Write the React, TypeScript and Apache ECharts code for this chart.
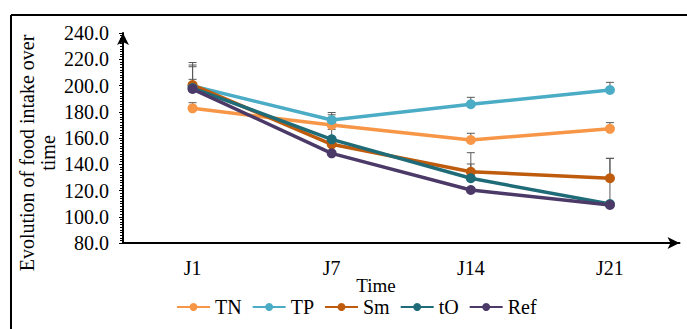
import React, { useEffect, useRef } from "react";
import * as echarts from "echarts";

const categories = ["J1", "J7", "J14", "J21"];
const seriesNames = ["TN", "TP", "Sm", "tO", "Ref"];
const tn = [182.6, 169.9, 158.5, 167.0];
const tp = [199.6, 173.7, 185.7, 196.6];
const sm = [200.4, 155.2, 134.3, 129.3];
const tO = [198.0, 159.0, 129.3, 109.7];
const ref = [197.3, 148.3, 120.4, 109.0];
// plus-direction error amounts
const errTN = [4.3, 7.8, 5.1, 4.7];
const errTP = [17.9, 5.7, 5.3, 5.8];
const errSm = [15.2, 0, 14.5, 15.2];
const errTO = [16.3, 7.6, 10.9, 0];
const errRef = [7.4, 0, 0, 35.5];
const yTicks = [80, 100, 120, 140, 160, 180, 200, 220, 240];

const colors = ["#F79646", "#4BACC6", "#BE5B0C", "#1F6C78", "#4B3A68"];
const FONT = "Liberation Serif";

export default function App() {
  const ref1 = useRef<HTMLDivElement>(null);
  useEffect(() => {
    if (!ref1.current) return;
    const chart = echarts.init(ref1.current, undefined, { renderer: "svg" });
    const values = [tn, tp, sm, tO, ref];
    const errs = [errTN, errTP, errSm, errTO, errRef];
    const errData: number[][] = [];
    values.forEach((vals, s) => {
      vals.forEach((v, i) => {
        if (errs[s][i] > 0) errData.push([i, v, v + errs[s][i]]);
      });
    });
    const lineSeries = seriesNames.map((name, s) => ({
      name,
      type: "line",
      data: values[s],
      symbol: "circle",
      symbolSize: 10,
      z: 3,
      lineStyle: { width: 3.5, color: colors[s] },
      itemStyle: { color: colors[s] },
    }));
    chart.setOption({
      animation: false,
      color: colors,
      textStyle: { fontFamily: FONT },
      grid: { left: 123, top: 33, right: 7.5, bottom: 86 },
      xAxis: {
        type: "category",
        data: categories,
        axisLine: {
          lineStyle: { color: "#000", width: 2 },
          symbol: ["none", "arrow"],
          symbolSize: [9, 12],
        },
        axisTick: { alignWithLabel: true, length: 5, lineStyle: { color: "#000", width: 1 } },
        axisLabel: { fontFamily: FONT, fontSize: 20, color: "#000", margin: 15 },
        splitLine: { show: false },
      },
      yAxis: {
        type: "value",
        min: 80,
        max: 240,
        interval: 20,
        axisLine: {
          show: true,
          lineStyle: { color: "#000", width: 2 },
          symbol: ["none", "arrow"],
          symbolSize: [9, 12],
        },
        axisTick: { show: true, length: 4, inside: false, lineStyle: { color: "#000" } },
        minorTick: { show: true, splitNumber: 10, length: 3, lineStyle: { color: "#000" } },
        axisLabel: {
          fontFamily: FONT,
          fontSize: 20,
          color: "#000",
          margin: 14,
          formatter: (v: number) => (yTicks.includes(v) ? v.toFixed(1) : ""),
        },
        splitLine: { show: false },
      },
      legend: {
        data: seriesNames,
        left: 176,
        top: 297,
        padding: 0,
        itemWidth: 33,
        itemHeight: 10,
        itemGap: 10,
        textStyle: { fontFamily: FONT, fontSize: 20, color: "#000" },
      },
      graphic: [
        {
          type: "line",
          shape: { x1: 11, y1: 15, x2: 11, y2: 329 },
          style: { stroke: "#000", lineWidth: 2 },
        },
        {
          type: "line",
          shape: { x1: 11, y1: 15, x2: 687, y2: 15 },
          style: { stroke: "#000", lineWidth: 2 },
        },
        {
          type: "text",
          x: 37.5,
          y: 153,
          rotation: Math.PI / 2,
          style: {
            text: "Evolution of food intake over\ntime",
            fontFamily: FONT,
            fontSize: 20,
            fill: "#000",
            textAlign: "center",
            textVerticalAlign: "middle",
            lineHeight: 21,
          },
        },
        {
          type: "text",
          x: 376,
          y: 285,
          style: {
            text: "Time",
            fontFamily: FONT,
            fontSize: 19,
            fill: "#000",
            textAlign: "center",
            textVerticalAlign: "middle",
          },
        },
      ],
      series: [
        {
          type: "custom",
          name: "err",
          z: 1,
          data: errData,
          renderItem: (params: any, api: any) => {
            const lo = api.coord([api.value(0), api.value(1)]);
            const hi = api.coord([api.value(0), api.value(2)]);
            const w = 4;
            return {
              type: "group",
              children: [
                {
                  type: "line",
                  shape: { x1: lo[0], y1: lo[1], x2: hi[0], y2: hi[1] },
                  style: { stroke: "#595959", lineWidth: 1 },
                },
                {
                  type: "line",
                  shape: { x1: hi[0] - w, y1: hi[1], x2: hi[0] + w, y2: hi[1] },
                  style: { stroke: "#595959", lineWidth: 1 },
                },
              ],
            };
          },
        },
        ...lineSeries,
      ],
    });
    return () => chart.dispose();
  }, []);
  return (
    <div
      ref={ref1}
      style={{ position: "fixed", left: 0, top: 0, width: 687, height: 329, background: "#fff" }}
    />
  );
}
